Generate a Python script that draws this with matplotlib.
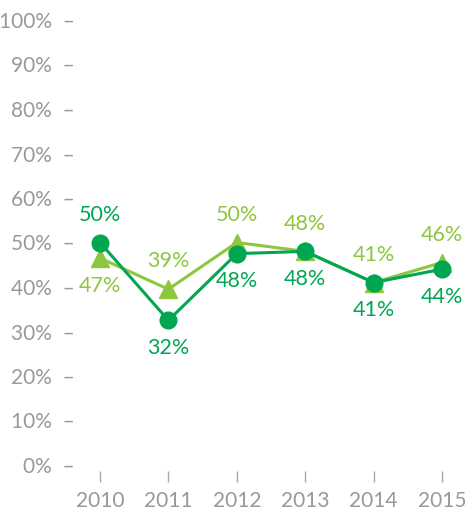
import matplotlib.pyplot as plt

years = ['2010', '2011', '2012', '2013', '2014', '2015']
dark_vals = [50, 32.5, 47.5, 48, 41, 44]
light_vals = [46.5, 39.5, 50, 48, 41, 45.5]
dark_labels = ['50%', '32%', '48%', '48%', '41%', '44%']
light_labels = ['47%', '39%', '50%', '48%', '41%', '46%']
# label above (+1) or below (-1) the point
dark_side = [1, -1, -1, -1, -1, -1]
light_side = [-1, 1, 1, 1, 1, 1]

dark = '#00a651'
light = '#8dc63f'
grey = '#999999'

plt.rcParams['font.family'] = ['Lato', 'DejaVu Sans']

W, H = 465, 514
fig = plt.figure(figsize=(W / 100, H / 100), dpi=100)
left, right, top, bottom = 76, 465, 20, 465
ax = fig.add_axes([left / W, (H - bottom) / H, (right - left) / W, (bottom - top) / H])

x = list(range(len(years)))
ax.plot(x, light_vals, color=light, lw=2.2, marker='^', ms=13, clip_on=False, zorder=2)
ax.plot(x, dark_vals, color=dark, lw=2.2, marker='o', ms=12, clip_on=False, zorder=3)

for i in x:
    ax.annotate(light_labels[i], (i, light_vals[i]), xytext=(0, 20 * light_side[i]),
                textcoords='offset points', ha='center', va='center',
                color=light, fontsize=15.5)
    ax.annotate(dark_labels[i], (i, dark_vals[i]), xytext=(0, 20 * dark_side[i]),
                textcoords='offset points', ha='center', va='center',
                color=dark, fontsize=15.5)

ax.set_xlim(-24 / 68.4, 5 + 23 / 68.4)
ax.set_ylim(0, 100)
ax.set_yticks(range(0, 101, 10))
ax.set_yticklabels([f'{v}%  \u2013' for v in range(0, 101, 10)])
ax.set_xticks(x)
ax.set_xticklabels(years)

for s in ax.spines.values():
    s.set_visible(False)
ax.spines['bottom'].set_position(('outward', 4))
ax.tick_params(axis='y', length=0, pad=1, labelsize=15, labelcolor=grey)
ax.tick_params(axis='x', length=8, width=1, color='#aaaaaa', pad=7,
               labelsize=15, labelcolor=grey)

fig.savefig('out.png', dpi=100)
